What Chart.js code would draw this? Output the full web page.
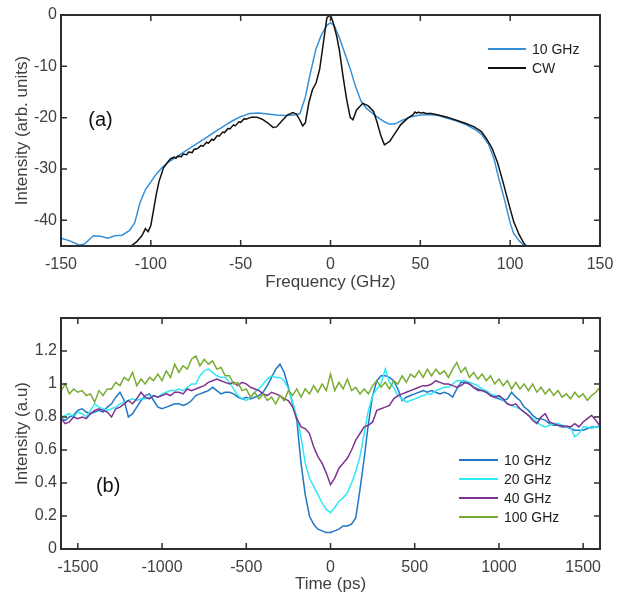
<!DOCTYPE html>
<html>
<head>
<meta charset="utf-8">
<script src="https://cdn.jsdelivr.net/npm/chart.js@4.4.1/dist/chart.umd.min.js"></script>
<style>
  html, body { margin: 0; padding: 0; background: #fff; }
  #wrap { position: relative; width: 625px; height: 595px; }
  .panel { position: absolute; left: 0; width: 625px; }
  #panelA { top: 0; height: 300px; }
  #panelB { top: 300px; height: 295px; }
</style>
</head>
<body>
<div id="wrap">
  <div class="panel" id="panelA"><canvas id="chartA"></canvas></div>
  <div class="panel" id="panelB"><canvas id="chartB"></canvas></div>
</div>
<script>
// ---- panel (a): optical spectrum ----
const freqTicks = [-150, -100, -50, 0, 50, 100, 150];
const specTicks = [-40, -30, -20, -10, 0];

const freq10 = [-150, -145, -140, -137, -132, -128, -124, -120, -116, -112, -109, -106, -103, -100, -97, -94, -90,
  -85, -80, -75, -70, -65, -60, -55, -50, -45, -40, -35, -30, -25, -20, -17, -14, -11, -8, -5, -2, 0,
  2, 5, 8, 11, 14, 17, 20, 25, 30, 33, 36, 40, 45, 50, 55, 60, 65, 70, 75, 80, 84, 88, 91, 94, 97, 100, 102, 105, 108];
const spec10 = [-43.5, -44, -44.8, -44.6, -43, -43.1, -43.5, -43, -42.9, -42, -40.5, -36.5, -34, -32.5, -31, -29.8, -28.6,
  -27.5, -26.3, -25.2, -24.1, -22.9, -21.8, -20.7, -19.8, -19.2, -19.1, -19.3, -19.5, -19.6, -19.5, -19.2, -16, -11, -6.5, -3.8, -2, -1.5,
  -2, -4.5, -7.5, -10.5, -14, -16.8, -18.2, -19.6, -20.8, -21.3, -21.2, -20.5, -19.8, -19.5, -19.4, -19.6, -20.1, -20.6, -21.3, -22.2, -23.2, -25.2, -28, -32.3, -36.2, -40.5, -42.6, -44, -45];

const freqCW = [-111, -108, -105, -103, -101.5, -100, -98.5, -97, -95.5, -93, -91, -89, -87, -86, -85, -83, -82, -80, -79, -77, -76,
  -74, -72, -71, -69, -68, -66, -65, -63, -62, -60, -59, -57, -56, -54, -53, -51, -50, -48, -47, -44, -41, -38, -35, -32, -30,
  -27, -24, -21, -19, -17, -15.5, -14, -12, -10, -8, -6, -4, -2, 0, 1.5, 3.5, 5, 7, 9, 11, 12.5, 14.5, 18, 21, 24, 26, 28, 30,
  33, 36, 39, 43, 46, 47, 48, 49, 50, 52, 53, 56, 60, 65, 70, 75, 80, 84, 87, 90, 93, 96, 99, 102, 105, 107.5, 109];
const specCW = [-45, -44.2, -43, -41.6, -42.2, -41, -38, -35, -32.5, -29.8, -28.8, -28, -27.7, -27.9, -27.5, -27.6, -27.1, -27.2, -26.7, -26.8, -26.2,
  -26.0, -25.4, -25.6, -24.8, -25.0, -24.2, -24.4, -23.5, -23.6, -22.8, -22.9, -22.1, -22.2, -21.4, -21.6, -20.8, -20.9, -20.2, -20.3, -19.9, -19.9, -20.3, -21.0, -21.9, -21.8,
  -20.6, -19.5, -19.0, -19.3, -20.5, -21.6, -21, -17, -14.5, -13.2, -10.5, -5.5, -0.5, 0, -1.5, -4.2, -7, -12, -16.5, -20, -20.4, -18.5, -17.2, -17.7, -18.8, -21, -23.5, -25.3,
  -24.6, -23, -21.4, -20.1, -19.4, -18.9, -19.1, -18.9, -19.1, -19.0, -19.2, -19.2, -19.5, -19.9, -20.5, -21.1, -21.8, -22.7, -24.2, -26, -28.8, -32.5, -36.5, -40.3, -42.8, -44.4, -45];

// ---- panel (b): time traces, one value every 25 ps from -1600 to 1600 ----
const timeTicks = [-1500, -1000, -500, 0, 500, 1000, 1500];
const levelTicks = [0, 0.2, 0.4, 0.6, 0.8, 1, 1.2];
const timePs = [];
for (let t = -1600; t <= 1600; t += 25) timePs.push(t);

const trace10 = [
  0.79, 0.78, 0.80, 0.81,  0.84, 0.85, 0.83, 0.82,  0.83, 0.84, 0.83, 0.86,  0.88, 0.92, 0.95, 0.90,
  0.80, 0.82, 0.86, 0.90,  0.93, 0.94, 0.90, 0.86,  0.85, 0.86, 0.87, 0.88,  0.88, 0.87, 0.88, 0.90,
  0.93, 0.94, 0.95, 0.96,  0.98, 0.96, 0.94, 0.95,  0.95, 0.94, 0.92, 0.91,  0.92, 0.91, 0.92, 0.93,
  0.95, 0.99, 1.04, 1.09,  1.12, 1.07, 0.98, 0.88,  0.78, 0.52, 0.33, 0.20,  0.15, 0.12, 0.11, 0.10,
  0.10, 0.11, 0.12, 0.14,  0.14, 0.15, 0.19, 0.36,  0.55, 0.76, 0.93, 1.02,  1.05, 1.05, 1.04, 1.02,
  0.97, 0.90, 0.92, 0.93,  0.94, 0.95, 0.96, 0.95,  0.96, 0.95, 0.94, 0.95,  0.94, 0.92, 0.97, 1.01,
  1.01, 1.00, 0.98, 0.97,  0.96, 0.95, 0.93, 0.92,  0.91, 0.90, 0.91, 0.95,  0.92, 0.90, 0.86, 0.84,
  0.81, 0.79, 0.79, 0.78,  0.76, 0.75, 0.75, 0.74,  0.74, 0.73, 0.72, 0.72,  0.72, 0.73, 0.74, 0.74,
  0.745];
const trace20 = [
  0.80, 0.81, 0.82, 0.80,  0.83, 0.82, 0.80, 0.84,  0.88, 0.86, 0.85, 0.84,  0.85, 0.86, 0.88, 0.89,
  0.90, 0.91, 0.90, 0.91,  0.91, 0.92, 0.93, 0.92,  0.94, 0.95, 0.96, 0.96,  0.97, 0.96, 0.98, 1.00,
  1.00, 1.05, 1.08, 1.09,  1.07, 1.05, 1.04, 1.04,  1.01, 0.97, 0.93, 0.91,  0.90, 0.92, 0.95, 0.97,
  1.00, 1.03, 1.05, 1.04,  1.04, 1.02, 0.97, 0.89,  0.80, 0.68, 0.52, 0.43,  0.38, 0.33, 0.28, 0.24,
  0.22, 0.25, 0.29, 0.31,  0.34, 0.40, 0.47, 0.56,  0.70, 0.84, 0.93, 0.97,  1.00, 1.09, 1.01, 0.98,
  0.93, 0.91, 0.89, 0.90,  0.91, 0.92, 0.93, 0.94,  0.94, 0.96, 0.97, 0.98,  0.98, 1.00, 1.02, 1.02,
  1.02, 1.01, 1.00, 0.99,  0.97, 0.96, 0.94, 0.93,  0.92, 0.90, 0.88, 0.87,  0.86, 0.85, 0.83, 0.81,
  0.79, 0.77, 0.75, 0.74,  0.75, 0.76, 0.76, 0.75,  0.74, 0.74, 0.68, 0.70,  0.74, 0.74, 0.73, 0.74,
  0.74];
const trace40 = [
  0.79, 0.76, 0.77, 0.80,  0.79, 0.80, 0.79, 0.82,  0.84, 0.85, 0.84, 0.83,  0.80, 0.85, 0.86, 0.88,
  0.90, 0.88, 0.91, 0.95,  0.92, 0.91, 0.93, 0.92,  0.93, 0.94, 0.93, 0.95,  0.95, 0.94, 0.97, 0.96,
  0.97, 0.98, 0.99, 1.01,  1.02, 1.03, 1.02, 1.01,  1.00, 1.01, 0.99, 1.01,  1.00, 0.98, 0.97, 0.96,
  0.94, 0.93, 0.95, 0.94,  0.93, 0.91, 0.90, 0.86,  0.79, 0.74, 0.73, 0.70,  0.62, 0.56, 0.52, 0.46,
  0.39, 0.43, 0.49, 0.52,  0.55, 0.60, 0.66, 0.70,  0.74, 0.75, 0.77, 0.84,  0.85, 0.86, 0.87, 0.91,
  0.93, 0.94, 0.95, 0.96,  0.97, 0.98, 0.99, 0.99,  1.00, 1.02, 1.01, 1.00,  1.00, 0.99, 0.98, 0.99,
  1.01, 1.00, 0.98, 0.96,  0.96, 0.95, 0.93, 0.92,  0.93, 0.91, 0.88, 0.87,  0.88, 0.85, 0.83, 0.81,
  0.78, 0.76, 0.80, 0.82,  0.77, 0.76, 0.75, 0.745, 0.745, 0.74, 0.76, 0.74,  0.77, 0.79, 0.81, 0.78,
  0.745];
const trace100 = [
  0.96, 1.00, 0.94, 0.97,  0.95, 0.96, 0.93, 0.94,  0.89, 0.96, 0.93, 0.97,  0.97, 1.01, 0.99, 1.04,
  1.02, 1.07, 0.99, 1.03,  1.00, 1.04, 1.02, 1.06,  1.02, 1.08, 1.04, 1.12,  1.07, 1.11, 1.09, 1.15,
  1.17, 1.11, 1.15, 1.12,  1.14, 1.09, 1.10, 1.05,  1.05, 1.00, 1.01, 0.96,  0.97, 0.92, 0.95, 0.91,
  0.94, 0.90, 0.92, 0.88,  0.93, 0.90, 0.96, 0.93,  0.97, 0.92, 0.97, 0.94,  0.99, 0.95, 1.00, 0.96,
  1.06, 0.96, 1.01, 0.97,  1.03, 0.96, 0.98, 0.94,  0.97, 0.94, 0.99, 1.02,  0.98, 1.01, 0.97, 1.02,
  1.00, 1.05, 1.01, 1.06,  1.04, 1.08, 1.04, 1.09,  1.05, 1.09, 1.06, 1.08,  1.04, 1.09, 1.13, 1.07,
  1.10, 1.04, 1.07, 1.03,  1.06, 1.02, 1.05, 1.00,  1.03, 0.99, 1.02, 0.97,  1.01, 0.97, 1.00, 0.96,
  1.00, 0.95, 0.98, 0.94,  0.97, 0.93, 0.96, 0.92,  0.94, 0.91, 0.95, 0.92,  0.94, 0.90, 0.93, 0.95,
  0.98];

const FONT = "'Liberation Sans', Arial, sans-serif";
const TEXT = "#404040";
const FRAME = "#2e2e2e";

function pairs(xs, ys) {
  return xs.map((x, i) => ({ x: x, y: ys[i] }));
}

// frame with inward ticks on all four sides, panel letter and an inset legend
const framePlugin = {
  id: "frame",
  afterDatasetsDraw(chart, args, opts) {
    const ctx = chart.ctx;
    const a = chart.chartArea;
    const xs = chart.scales.x, ys = chart.scales.y;
    ctx.save();
    ctx.strokeStyle = FRAME;
    ctx.lineWidth = 2;
    ctx.strokeRect(a.left, a.top, a.right - a.left, a.bottom - a.top);
    ctx.lineWidth = 1.5;
    ctx.beginPath();
    xs.ticks.forEach(t => {
      const px = xs.getPixelForValue(t.value);
      ctx.moveTo(px, a.bottom); ctx.lineTo(px, a.bottom - 6);
      ctx.moveTo(px, a.top); ctx.lineTo(px, a.top + 6);
    });
    ys.ticks.forEach(t => {
      const py = ys.getPixelForValue(t.value);
      ctx.moveTo(a.left, py); ctx.lineTo(a.left + 6, py);
      ctx.moveTo(a.right, py); ctx.lineTo(a.right - 6, py);
    });
    ctx.stroke();

    // panel letter, placed in data units
    ctx.fillStyle = "#111";
    ctx.font = "20px " + FONT;
    ctx.textAlign = "center";
    ctx.textBaseline = "middle";
    ctx.fillText(opts.letter.text, xs.getPixelForValue(opts.letter.x), ys.getPixelForValue(opts.letter.y));

    // legend
    const lg = opts.legend;
    ctx.font = "14px " + FONT;
    ctx.textAlign = "left";
    lg.order.forEach((di, k) => {
      const ds = chart.data.datasets[di];
      const y = lg.top + k * lg.gap;
      ctx.strokeStyle = ds.borderColor;
      ctx.lineWidth = 2;
      ctx.beginPath();
      ctx.moveTo(lg.left, y); ctx.lineTo(lg.left + lg.len, y);
      ctx.stroke();
      ctx.fillStyle = "#222";
      ctx.fillText(ds.label, lg.left + lg.len + 6, y + 1);
    });
    ctx.restore();
  }
};

function axis(min, max, tickList, title, titlePad, isX, size) {
  return {
    type: "linear",
    min: min,
    max: max,
    afterBuildTicks: s => { s.ticks = tickList.map(v => ({ value: v })); },
    afterFit: s => { if (isX) s.height = size; else s.width = size; },
    grid: { display: false, drawTicks: false },
    border: { display: false },
    ticks: {
      color: TEXT,
      padding: isX ? 9 : 4,
      maxRotation: 0,
      autoSkip: false,
      font: { family: FONT, size: 16 },
      callback: v => String(v)
    },
    title: {
      display: true,
      text: title,
      color: TEXT,
      font: { family: FONT, size: 17 },
      padding: isX ? { top: 0, bottom: titlePad } : { top: titlePad, bottom: 0 }
    }
  };
}

function lineSet(label, xs, ys, color, order) {
  return {
    label: label,
    data: pairs(xs, ys),
    borderColor: color,
    borderWidth: 1.5,
    pointRadius: 0,
    tension: 0,
    fill: false,
    order: order
  };
}

Chart.defaults.font.family = FONT;

new Chart(document.getElementById("chartA"), {
  type: "line",
  data: {
    datasets: [
      lineSet("10 GHz", freq10, spec10, "#3590d8", 2),
      lineSet("CW", freqCW, specCW, "#111111", 1)
    ]
  },
  options: {
    responsive: true,
    maintainAspectRatio: false,
    animation: false,
    layout: { padding: { left: 0, right: 25, top: 15, bottom: 0 } },
    plugins: {
      legend: { display: false },
      tooltip: { enabled: false },
      frame: {
        letter: { text: "(a)", x: -128, y: -20.5 },
        legend: { left: 488, top: 49, gap: 19, len: 38, order: [0, 1] }
      }
    },
    scales: {
      x: axis(-150, 150, freqTicks, "Frequency (GHz)", 7, true, 54),
      y: axis(-45, 0, specTicks, "Intensity (arb. units)", 12, false, 61)
    }
  },
  plugins: [framePlugin]
});

new Chart(document.getElementById("chartB"), {
  type: "line",
  data: {
    datasets: [
      lineSet("10 GHz", timePs, trace10, "#2177c6", 4),
      lineSet("20 GHz", timePs, trace20, "#2ee9f6", 3),
      lineSet("40 GHz", timePs, trace40, "#7e3391", 2),
      lineSet("100 GHz", timePs, trace100, "#77ac30", 1)
    ]
  },
  options: {
    responsive: true,
    maintainAspectRatio: false,
    animation: false,
    layout: { padding: { left: 0, right: 25, top: 18, bottom: 0 } },
    plugins: {
      legend: { display: false },
      tooltip: { enabled: false },
      frame: {
        letter: { text: "(b)", x: -1320, y: 0.38 },
        legend: { left: 459, top: 160, gap: 19, len: 39, order: [0, 1, 2, 3] }
      }
    },
    scales: {
      x: axis(-1600, 1600, timeTicks, "Time (ps)", 0, true, 46),
      y: axis(0, 1.4, levelTicks, "Intensity (a.u)", 12, false, 61)
    }
  },
  plugins: [framePlugin]
});
</script>
</body>
</html>
